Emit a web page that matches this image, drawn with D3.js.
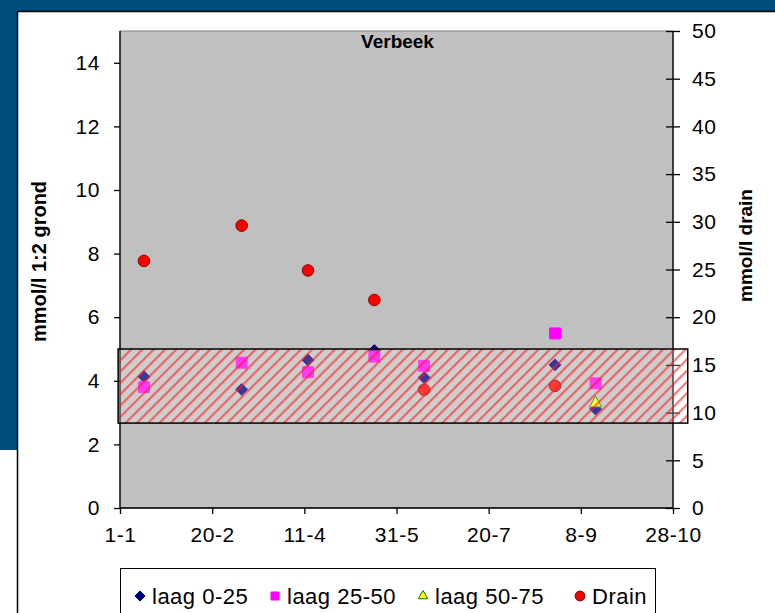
<!DOCTYPE html>
<html>
<head>
<meta charset="utf-8">
<script src="https://cdn.jsdelivr.net/npm/d3@7"></script>
<style>
	body { margin: 0; background: #fff; }
	svg { display: block; font-family: Arial, "Liberation Sans", sans-serif; }
</style>
</head>
<body>
<svg id="chart" width="775" height="613"></svg>
<script>
	// sample dates (one per sampling round)
	var sampleDates = ['2005-01-14', '2005-03-08', '2005-04-13', '2005-05-19', '2005-06-15', '2005-08-25', '2005-09-16'];

	// mmol/l 1:2 grond (left axis)
	var laag0_25  = [4.13, 3.73, 4.65, 4.95, 4.10, 4.50, 3.11];
	var laag25_50 = [3.80, 4.57, 4.27, 4.76, 4.47, 5.49, 3.92];
	var laag50_75 = [null, null, null, null, null, null, 3.29];

	// mmol/l drain (right axis)
	var drain = [25.9, 29.6, 24.9, 21.8, 12.4, 12.8, null];

	var xTicks = ['2005-01-01', '2005-02-20', '2005-04-11', '2005-05-31', '2005-07-20', '2005-09-08', '2005-10-28'];
	var leftTicks = [0, 2, 4, 6, 8, 10, 12, 14];
	var rightTicks = [0, 5, 10, 15, 20, 25, 30, 35, 40, 45, 50];

	// streefwaarde band (left axis units) and its date span
	var bandRange = [2.67, 5.0];
	var bandDates = ['2004-12-31', '2005-11-05'];

	var parse = d3.utcParse('%Y-%m-%d');
	var fmt = d3.utcFormat('%-d-%-m');

	var margin = {top: 31, right: 102, bottom: 105, left: 120};
	var width = 775 - margin.left - margin.right,
		height = 613 - margin.top - margin.bottom;

	var svg = d3.select('#chart');

	// dark blue slide background
	svg.append('rect').attr('x', 0).attr('y', 0).attr('width', 775).attr('height', 12).attr('fill', '#004d7c');
	svg.append('rect').attr('x', 0).attr('y', 0).attr('width', 18).attr('height', 450).attr('fill', '#004d7c');
	svg.append('path')
		.attr('d', 'M17.5,613V11.5H775')
		.attr('fill', 'none')
		.attr('stroke', '#000')
		.attr('stroke-width', 1.5);

	var defs = svg.append('defs');
	var pat = defs.append('pattern')
		.attr('id', 'hatch')
		.attr('patternUnits', 'userSpaceOnUse')
		.attr('width', 8)
		.attr('height', 8)
		.attr('patternTransform', 'rotate(45)');
	pat.append('rect').attr('width', 8).attr('height', 8).attr('fill', 'rgba(255,255,255,0.22)');
	pat.append('rect').attr('x', 0).attr('width', 2.2).attr('height', 8).attr('fill', 'rgba(255,30,30,0.6)');

	var x = d3.scaleUtc()
		.domain([parse('2005-01-01'), parse('2005-10-28')])
		.range([0, width]);

	var yL = d3.scaleLinear().domain([0, 15]).range([height, 0]);
	var yR = d3.scaleLinear().domain([0, 50]).range([height, 0]);

	var cont = svg.append('g')
		.attr('transform', 'translate(' + margin.left + ',' + margin.top + ')');

	cont.append('rect')
		.attr('width', width)
		.attr('height', height)
		.attr('fill', '#c0c0c0')
		.attr('stroke', '#808080');

	cont.append('text')
		.attr('x', width / 2 + 1)
		.attr('y', 17)
		.attr('text-anchor', 'middle')
		.attr('font-size', 19)
		.attr('font-weight', 'bold')
		.text('Verbeek');

	// axes
	var axL = cont.append('g')
		.call(d3.axisLeft(yL).tickValues(leftTicks).tickSize(6).tickPadding(14));
	var axR = cont.append('g')
		.attr('transform', 'translate(' + width + ',0)')
		.call(d3.axisRight(yR).tickValues(rightTicks).tickSize(7).tickPadding(12));
	axR.selectAll('.tick line').attr('x1', -7);
	var axB = cont.append('g')
		.attr('transform', 'translate(0,' + height + ')')
		.call(d3.axisBottom(x).tickValues(xTicks.map(parse)).tickFormat(fmt).tickSize(6).tickPadding(13));

	[axL, axR, axB].forEach(function(ax) {
		ax.selectAll('text')
			.attr('font-size', 21)
			.attr('letter-spacing', 0.6)
			.attr('fill', '#000')
			.attr('font-family', 'Arial, "Liberation Sans", sans-serif');
		ax.selectAll('line, path').attr('stroke', '#000').attr('stroke-width', 1.3);
		ax.select('.domain').attr('d', ax === axB ? 'M0,0H' + width : 'M0,0V' + height);
	});

	// axis titles
	svg.append('text')
		.attr('transform', 'translate(46,' + (margin.top + height / 2 - 8) + ') rotate(-90)')
		.attr('text-anchor', 'middle')
		.attr('font-size', 20)
		.attr('font-weight', 'bold')
		.text('mmol/l 1:2 grond');
	svg.append('text')
		.attr('transform', 'translate(752,' + (margin.top + height / 2 - 24) + ') rotate(-90)')
		.attr('text-anchor', 'middle')
		.attr('font-size', 19)
		.attr('font-weight', 'bold')
		.text('mmol/l drain');

	function pts(vals) {
		return sampleDates.map(function(d, i) { return {date: parse(d), v: vals[i]}; })
			.filter(function(d) { return d.v != null; });
	}

	var shapes = {
		diamond: d3.symbolDiamond2,
		square: d3.symbolSquare,
		triangle: d3.symbolTriangle2,
		circle: d3.symbolCircle
	};

	var series = [
		{name: 'laag 0-25',  vals: laag0_25,  y: yL, shape: 'diamond',  size: 90,  fill: '#000080', stroke: '#000080'},
		{name: 'laag 25-50', vals: laag25_50, y: yL, shape: 'square',   size: 120, fill: '#ff00ff', stroke: '#ff00ff'},
		{name: 'laag 50-75', vals: laag50_75, y: yL, shape: 'triangle', size: 110, fill: '#ffff00', stroke: '#008000'},
		{name: 'Drain',      vals: drain,     y: yR, shape: 'circle',   size: 105, fill: '#ff0000', stroke: '#800000'}
	];

	series.forEach(function(s) {
		cont.selectAll(null)
			.data(pts(s.vals)).enter()
			.append('path')
				.attr('d', d3.symbol().type(shapes[s.shape]).size(s.size))
				.attr('transform', function(d) { return 'translate(' + x(d.date) + ',' + s.y(d.v) + ')'; })
				.attr('fill', s.fill)
				.attr('stroke', s.stroke)
				.attr('stroke-width', 1);
	});

	// hatched target band, drawn over the markers
	cont.append('rect')
		.attr('x', x(parse(bandDates[0])))
		.attr('y', yL(bandRange[1]))
		.attr('width', x(parse(bandDates[1])) - x(parse(bandDates[0])))
		.attr('height', yL(bandRange[0]) - yL(bandRange[1]))
		.attr('fill', 'url(#hatch)')
		.attr('stroke', '#000')
		.attr('stroke-width', 1.5);

	// legend
	var leg = svg.append('g').attr('transform', 'translate(120,568)');
	leg.append('rect')
		.attr('x', 0.5).attr('y', 0.5)
		.attr('width', 535).attr('height', 60)
		.attr('fill', '#fff')
		.attr('stroke', '#000');
	var legX = [20, 155, 303, 460];
	series.forEach(function(s, i) {
		var g = leg.append('g').attr('transform', 'translate(' + legX[i] + ',28)');
		g.append('path')
			.attr('d', d3.symbol().type(shapes[s.shape]).size(s.shape === 'circle' ? 75 : 65))
			.attr('fill', s.fill)
			.attr('stroke', s.stroke);
		g.append('text')
			.attr('x', 12)
			.attr('y', 8)
			.attr('font-size', 22)
			.attr('letter-spacing', 0.5)
			.text(s.name);
	});
</script>
</body>
</html>
